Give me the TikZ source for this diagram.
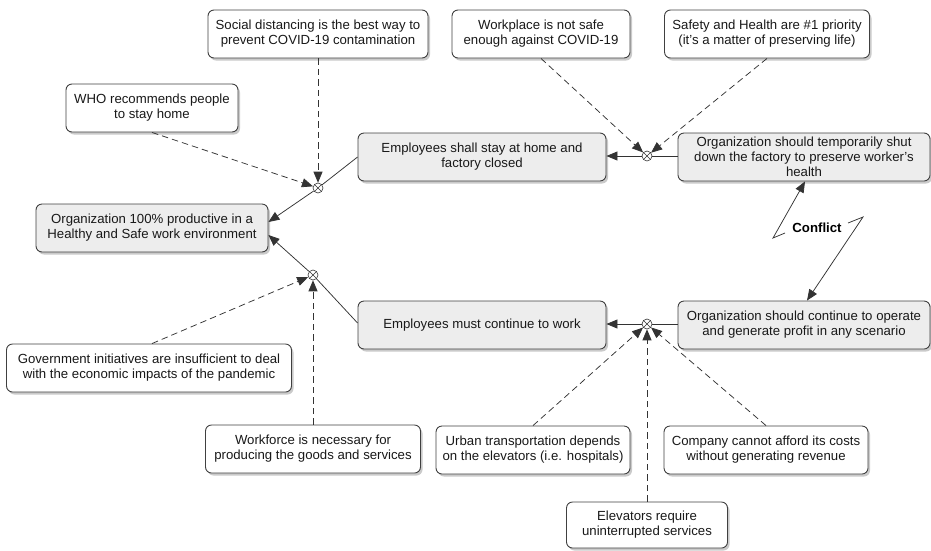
\documentclass[tikz,border=0pt]{standalone}
\usepackage{fontspec}
\setmainfont{Liberation Sans}
\usetikzlibrary{arrows.meta,shadows}
\begin{document}
\begin{tikzpicture}[x=1pt,y=-1pt,
  box/.style={draw=black!75, rounded corners=6pt, line width=0.9pt, align=center,
    inner sep=1pt, minimum height=48pt, text=black!90,
    font=\fontsize{13.2}{15}\selectfont,
    drop shadow={shadow xshift=2pt, shadow yshift=-2.5pt, opacity=0.35, fill=black!60}},
  mainbox/.style={box, fill=black!7},
  asbox/.style={box, fill=white},
  junc/.style={circle, draw=black!80, line width=0.6pt, minimum size=10pt, inner sep=0pt, fill=white,
    path picture={\draw[line width=0.5pt, black!80] (path picture bounding box.north west) -- (path picture bounding box.south east)
      (path picture bounding box.north east) -- (path picture bounding box.south west);}},
  tip/.style={-{Triangle[length=11pt,width=9pt]}},
  link/.style={draw=black!80, line width=0.75pt},
  arr/.style={link, tip},
  darr/.style={link, tip, dash pattern=on 6.5pt off 4pt}
]
\useasboundingbox (0,0) rectangle (931,550);

% main boxes
\node[mainbox, minimum width=232pt] (org) at (152,228) {Organization 100\% productive in a\\Healthy and Safe work environment};
\node[mainbox, minimum width=248pt] (esh) at (482,157) {Employees shall stay at home and\\factory closed};
\node[mainbox, minimum width=248pt] (esm) at (482,325) {Employees must continue to work};
\node[mainbox, minimum width=252pt] (ot) at (804,157) {Organization should temporarily shut\\down the factory to preserve worker's\\health};
\node[mainbox, minimum width=252pt] (oc) at (804,325) {Organization should continue to operate\\and generate profit in any scenario};

% assumption boxes
\node[asbox, minimum width=220pt] (sd) at (318,34) {Social distancing is the best way to\\prevent COVID-19 contamination};
\node[asbox, minimum width=172pt] (who) at (152,108) {WHO recommends people\\to stay home};
\node[asbox, minimum width=178pt] (wp) at (541,34) {Workplace is not safe\\enough against COVID-19};
\node[asbox, minimum width=205pt] (sh) at (767,34) {Safety and Health are \#1 priority\\(it's a matter of preserving life)};
\node[asbox, minimum width=285pt] (gov) at (149,368) {Government initiatives are insufficient to deal\\with the economic impacts of the pandemic};
\node[asbox, minimum width=215pt] (wf) at (313,449) {Workforce is necessary for\\producing the goods and services};
\node[asbox, minimum width=194pt] (urb) at (533,450) {Urban transportation depends\\on the elevators (i.e. hospitals)};
\node[asbox, minimum width=204pt] (comp) at (766,450) {Company cannot afford its costs\\without generating revenue};
\node[asbox, minimum width=161pt, minimum height=46pt] (elev) at (647,525) {Elevators require\\uninterrupted services};

% junctions
\node[junc] (j1) at (318,188) {};
\node[junc] (j2) at (647,156) {};
\node[junc] (j3) at (313,275) {};
\node[junc] (j4) at (647,324) {};

% solid connectors
\draw[link] (esh.west) -- (j1);
\draw[arr] (j1) -- ([yshift=6pt]org.east);
\draw[link] ([yshift=2pt]esm.west) -- (j3);
\draw[arr] (j3) -- ([yshift=-7pt]org.east);
\draw[link] (ot.west |- j2) -- (j2);
\draw[arr] (j2) -- (esh.east |- j2);
\draw[link] (oc.west |- j4) -- (j4);
\draw[arr] (j4) -- (esm.east |- j4);

% dashed connectors
\draw[darr] (sd.south) -- (j1);
\draw[darr] (who.south) -- (j1);
\draw[darr] (wp.south) -- (j2);
\draw[darr] (sh.south) -- (j2);
\draw[darr] ([xshift=3pt]gov.north) -- (j3);
\draw[darr] (wf.north) -- (j3);
\draw[darr] (urb.north) -- (j4);
\draw[darr] (elev.north) -- (j4);
\draw[darr] (comp.north) -- (j4);

% conflict
\coordinate (ca) at (785,233);
\coordinate (cb) at (773,238);
\coordinate (cc) at (848,223);
\coordinate (cd) at (863,217);
\draw[arr] (ca) -- (cb) -- ([xshift=1pt]ot.south);
\draw[arr] (cc) -- (cd) -- ([xshift=3pt]oc.north);
\node[font=\fontsize{13.2}{15}\selectfont\bfseries] (cf) at (817,228) {Conflict};
\end{tikzpicture}
\end{document}
